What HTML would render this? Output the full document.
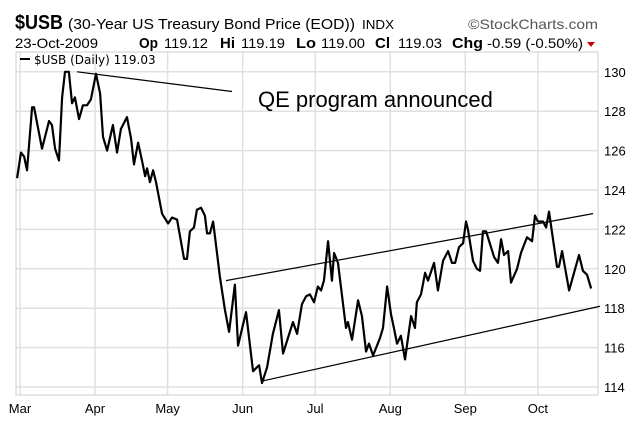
<!DOCTYPE html>
<html><head><meta charset="utf-8"><style>
body{margin:0;width:637px;height:437px;background:#fff;overflow:hidden;font-family:"Liberation Sans",sans-serif}
svg{position:absolute;left:0;top:0}
</style></head><body>
<svg width="637" height="437" id="c">
<text x="15" y="29" font-size="20" font-weight="bold" fill="#000" textLength="48" lengthAdjust="spacingAndGlyphs">$USB</text>
<text x="68" y="29" font-size="15" fill="#000" textLength="287" lengthAdjust="spacingAndGlyphs">(30-Year US Treasury Bond Price (EOD))</text>
<text x="362" y="29" font-size="13" fill="#000" textLength="32" lengthAdjust="spacingAndGlyphs">INDX</text>
<text x="468" y="29" font-size="14" fill="#555" textLength="130" lengthAdjust="spacingAndGlyphs">©StockCharts.com</text>
<g font-size="14" fill="#000">
<text x="15" y="48" textLength="83" lengthAdjust="spacingAndGlyphs">23-Oct-2009</text>
<text x="139" y="48" font-weight="bold" font-size="15" textLength="19" lengthAdjust="spacingAndGlyphs">Op</text>
<text x="164" y="48" textLength="44" lengthAdjust="spacingAndGlyphs">119.12</text>
<text x="220" y="48" font-weight="bold" font-size="15" textLength="15" lengthAdjust="spacingAndGlyphs">Hi</text>
<text x="241" y="48" textLength="44" lengthAdjust="spacingAndGlyphs">119.19</text>
<text x="296" y="48" font-weight="bold" font-size="15" textLength="20" lengthAdjust="spacingAndGlyphs">Lo</text>
<text x="321" y="48" textLength="44" lengthAdjust="spacingAndGlyphs">119.00</text>
<text x="375" y="48" font-weight="bold" font-size="15" textLength="15" lengthAdjust="spacingAndGlyphs">Cl</text>
<text x="398" y="48" textLength="44" lengthAdjust="spacingAndGlyphs">119.03</text>
<text x="452" y="48" font-weight="bold" font-size="15" textLength="31" lengthAdjust="spacingAndGlyphs">Chg</text>
<text x="487" y="48" textLength="96" lengthAdjust="spacingAndGlyphs">-0.59 (-0.50%)</text>
</g>
<polygon points="587,42 595,42 591,47" fill="#c00"/>
<g id="grid"></g>
<rect x="16" y="52" width="582" height="343" fill="none" stroke="#ccc"/>
<g id="marks"></g>
<line x1="20" y1="59" x2="30" y2="59" stroke="#000" stroke-width="2"/>
<text x="34" y="64" font-family="DejaVu Sans,sans-serif" font-size="12" fill="#000">$USB (Daily) 119.03</text>
<text x="258" y="107" font-size="22" fill="#000">QE program announced</text>
</svg>
<script>
const monthLabels=["Mar","Apr","May","Jun","Jul","Aug","Sep","Oct"];
const monthDays=[0,31,61,92,122,153,184,214];
const yTicks=[114,116,118,120,122,124,126,128,130];
const days=[-1.2,0.4,1.7,2.9,5,5.8,9.1,12,13.2,14.5,16.1,17.4,18.6,20.2,21.5,22.7,24.4,26,27.7,29.3,31.4,33.1,34.3,36,38.4,40.1,41.7,44.2,45.9,47.1,48.8,50.4,51.7,52.5,53.7,55,56.2,58.7,61.2,62.8,64.9,67.8,69,70.2,71.9,73.1,74.8,76.4,77.3,78.5,79.8,82.6,84.7,86.4,88.8,90.1,93.4,96.3,97.9,98.8,100,102.1,104.5,107,108.7,112.8,114.5,116.5,118.2,119.8,121.5,123.1,124.4,125.6,127.3,128.9,129.8,131.4,134.7,135.5,137.2,139.7,141.3,143,144.2,145.9,148.8,150,151.7,153.3,154.5,155.8,157.4,159.1,161.6,163.2,164,165.7,167.4,168.6,171.1,172.7,174.8,176.9,178.5,179.8,181.4,183.1,184.3,185.1,187.2,188.8,190.1,191.3,192.6,195.9,197.5,198.8,200,201.7,202.9,205.4,207,209.5,211.6,212.8,214,216.1,217.4,218.6,221.9,222.7,224,226.9,231,232.6,234.3,236];
const prices=[124.6,125.9,125.7,125.0,128.2,128.2,126.1,127.5,127.3,126.1,125.5,128.7,130.0,130.0,128.4,128.7,127.6,128.3,128.3,128.6,129.9,128.9,126.7,126.0,127.3,125.9,127.1,127.7,126.6,125.3,126.4,125.5,124.7,125.1,124.4,125.0,124.4,122.8,122.3,122.6,122.5,120.5,120.5,121.9,122.1,123.0,123.1,122.7,121.8,121.8,122.4,119.6,117.9,116.8,119.2,116.1,117.8,114.8,115.0,115.1,114.2,115.0,116.7,117.9,115.7,117.3,116.7,118.2,118.6,118.7,118.3,119.1,118.9,119.4,121.4,119.4,120.8,120.3,117.0,117.3,116.4,118.4,117.6,115.8,116.2,115.6,116.5,117.0,119.1,117.7,117.0,116.2,116.6,115.4,117.6,117.0,118.3,118.7,119.8,119.4,120.3,118.9,120.4,120.9,120.3,120.3,121.1,121.3,122.4,122.0,120.4,120.0,119.9,121.9,121.9,120.6,120.3,121.5,120.7,120.9,119.3,120.0,120.8,121.6,121.4,122.7,122.4,122.4,122.1,122.9,120.1,120.1,120.9,118.9,120.7,119.9,119.7,119.0];
const trendStartDays=[23.6,85.1,100];
const trendStartVals=[130.0,119.4,114.3];
const trendEndDays=[87.6,236.8,239.7];
const trendEndVals=[129.0,122.8,118.1];
const X=d=>20+d*2.42, Y=v=>190-(v-124)*19.7;
const NS="http://www.w3.org/2000/svg";
const grid=document.getElementById('grid'), marks=document.getElementById('marks'), svg=document.getElementById('c');
function mk(t,a,p){const e=document.createElementNS(NS,t);for(const k in a)e.setAttribute(k,a[k]);p.appendChild(e);return e;}
yTicks.forEach(v=>{
 const l=mk('line',{x1:16,x2:598,y1:Y(v),y2:Y(v),stroke:'#e0e0e0','stroke-width':1.5},grid);
 
 
 const t=mk('text',{x:604,y:Y(v)+5,'font-size':13,fill:'#000'},svg);
 t.textContent=v;
 
 
});
monthDays.forEach((d,i)=>{
 const l=mk('line',{x1:X(d),x2:X(d),y1:52,y2:395,stroke:'#e0e0e0','stroke-width':1.5},grid);
 
 
 const t=mk('text',{x:X(d),y:413,'font-size':13,fill:'#000','text-anchor':'middle'},svg);
 t.textContent=monthLabels[i];
 
 
});
const pl=mk('polyline',{points:days.map((d,i)=>X(d)+','+Y(prices[i])).join(' '),fill:'none',stroke:'#000','stroke-width':2.2,'stroke-linejoin':'round'},marks);


trendStartDays.forEach((d,i)=>{
 const l=mk('line',{x1:X(d),y1:Y(trendStartVals[i]),x2:X(trendEndDays[i]),y2:Y(trendEndVals[i]),stroke:'#000','stroke-width':1.2},marks);
 
 
});
</script>
</body></html>
